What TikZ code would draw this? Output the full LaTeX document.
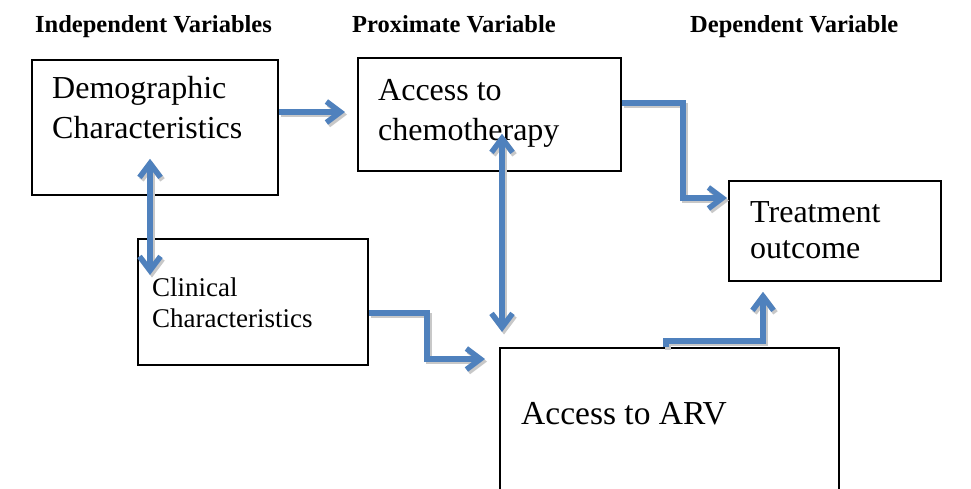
\documentclass[tikz,border=0pt]{standalone}
\usepackage{fontspec}
\setmainfont{Liberation Serif}
\usetikzlibrary{arrows.meta,calc}
\definecolor{arrblue}{HTML}{4F81BD}
\definecolor{shadowgray}{HTML}{C8C8C8}
\newcommand\bluearrow[2]{\draw[connshadow,#1] #2; \draw[conn,#1] #2;}
\begin{document}
\begin{tikzpicture}[x=1pt,y=-1pt,
  box/.style={draw=black, line width=1.8pt, inner sep=0pt, anchor=north west},
  txt/.style={inner sep=0pt, anchor=base west, font=\fontsize{32}{37}\selectfont},
  big/.style={inner sep=0pt, anchor=base west, font=\fontsize{33.5}{38}\selectfont},
  small/.style={inner sep=0pt, anchor=base west, font=\fontsize{27}{31}\selectfont},
  head/.style={inner sep=0pt, anchor=base west, font=\fontsize{24.5}{28}\selectfont\bfseries},
  conn/.style={draw=arrblue, line width=5.5pt},
  connshadow/.style={draw=shadowgray, line width=5.5pt, transform canvas={shift={(2pt,-2.5pt)}}},
  >={Straight Barb[length=14pt,width=21pt]}
]
\clip (0,0) rectangle (971,488);
\fill[white] (0,0) rectangle (971,488);
% boxes
\node[box, minimum width=246pt, minimum height=135pt] (demo) at (31,59) {};
\node[box, minimum width=263pt, minimum height=113pt] (chemo) at (357,57) {};
\node[box, minimum width=212pt, minimum height=100pt] (tre) at (728,180) {};
\node[box, minimum width=230pt, minimum height=126pt] (clin) at (137,238) {};
\node[box, minimum width=339pt, minimum height=200pt] (arv) at (499,347) {};
% texts
\node[head] (h1) at (35,32) {Independent Variables};
\node[head] (h2) at (352,32) {Proximate Variable};
\node[head] (h3) at (690,32) {Dependent Variable};
\node[txt] (demo1) at (52,98) {Demographic};
\node[txt] (demo2) at (52,138) {Characteristics};
\node[txt] (chemo1) at (378,100) {Access to};
\node[txt] (chemo2) at (378,140) {chemotherapy};
\node[txt] (tre1) at (750,222) {Treatment};
\node[txt] (tre2) at (750,258) {outcome};
\node[small] (clin1) at (152,296) {Clinical};
\node[small] (clin2) at (152,327) {Characteristics};
\node[big] (arv1) at (521,424) {Access to ARV};
% connectors
\bluearrow{->}{([yshift=-53pt]demo.north east) -- ([xshift=-12pt,yshift=-55pt]chemo.north west)}
\bluearrow{->}{([yshift=-46pt]chemo.north east) -- ++(61,0) |- ([xshift=-1pt,yshift=-18pt]tre.north west)}
\bluearrow{<->}{([xshift=119pt,yshift=37pt]demo.south west) -- ([xshift=13pt,yshift=-37pt]clin.north west)}
\bluearrow{<->}{([xshift=145pt,yshift=38pt]chemo.south west) -- ([xshift=3pt,yshift=15pt]arv.north west)}
\bluearrow{->}{([yshift=-75pt]clin.north east) -- ++(58,0) |- ([xshift=-14pt,yshift=-12pt]arv.north west)}
\bluearrow{->}{([xshift=167pt]arv.north west) -- ++(0,-6) -| ([xshift=35pt,yshift=-10pt]tre.south west)}
\end{tikzpicture}
\end{document}
